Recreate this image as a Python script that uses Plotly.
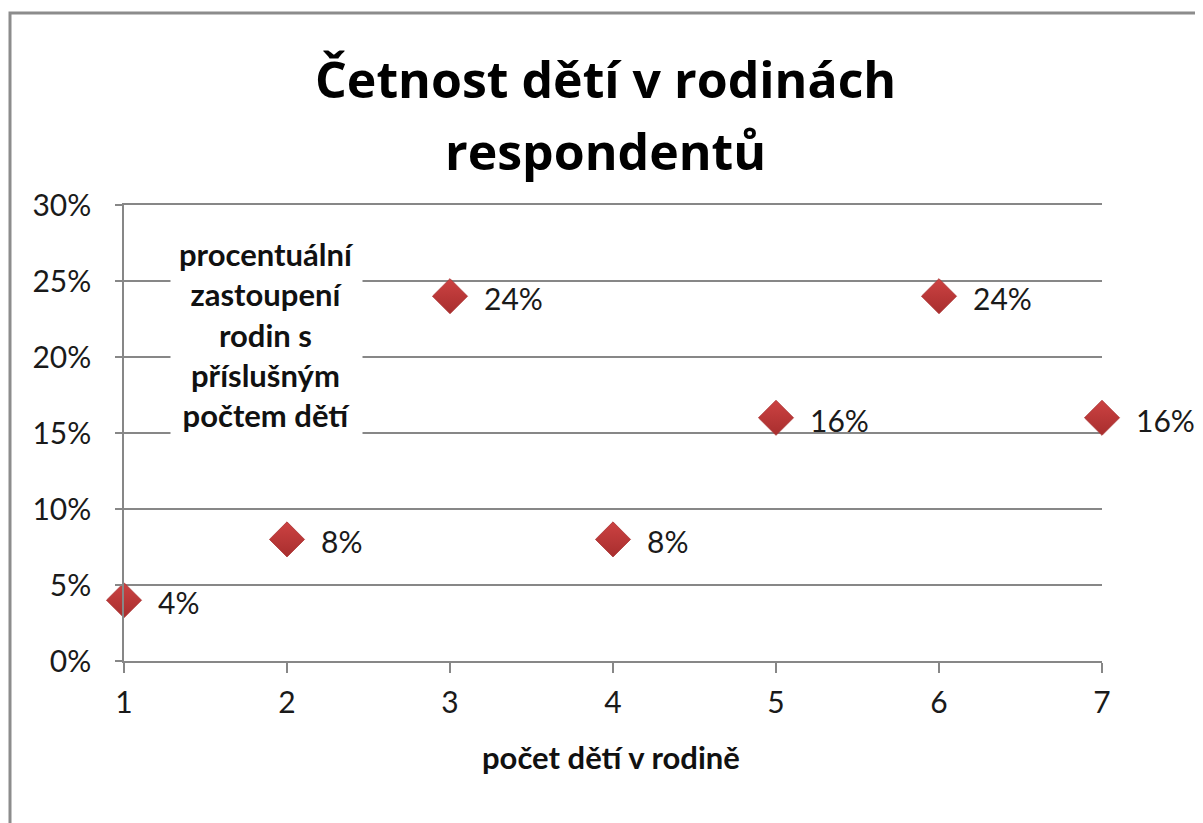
import plotly.graph_objects as go

# data
pocet_deti = [1, 2, 3, 4, 5, 6, 7]
podil = [4, 8, 24, 8, 16, 24, 16]
y_ticks = [0, 5, 10, 15, 20, 25, 30]
y_tick_labels = [f"{v}%" for v in y_ticks]
popis = "procentuální<br>zastoupení<br>rodin s<br>příslušným<br>počtem dětí"
title_lines = ["Četnost dětí v rodinách", "respondentů"]

# the page puts the figure 8px in from the top-left corner
OFF = 8
W, H = 1203 - OFF, 823 - OFF
L, T = 124 - OFF, 205 - OFF
R = W - (1102 - OFF)
B = H - (661 - OFF)
pw, ph = W - L - R, H - T - B


def px_x(px):
    return (px - OFF - L) / pw


def px_y(py):
    return (H - B - (py - OFF)) / ph


font = "Lato, 'Open Sans', sans-serif"
grid_color = "#878787"

fig = go.Figure()

fig.add_trace(go.Scatter(
    x=pocet_deti,
    y=podil,
    mode="markers",
    marker=dict(symbol="diamond", size=27, color="#CC4242",
                gradient=dict(type="vertical", color="#A82E2E"),
                line=dict(color="#A93232", width=0.8)),
    showlegend=False,
    hoverinfo="skip",
    cliponaxis=False,
))

annotations = []
for x, y in zip(pocet_deti, podil):
    annotations.append(dict(
        x=x, y=y, xref="x", yref="y", text=f"{y}%", showarrow=False,
        xanchor="left", xshift=32, yshift=-2,
        font=dict(family=font, size=30, color="#1a1a1a"),
    ))

annotations.append(dict(
    x=1.877, y=21.45, xref="x", yref="y", text=f"<b>{popis}</b>",
    showarrow=False, xanchor="center", yanchor="middle",
    bgcolor="white", borderpad=8,
    font=dict(family=font, size=31, color="#111"),
))

for i, line in enumerate(title_lines):
    annotations.append(dict(
        x=px_x(605), y=px_y(79 + i * 72), xref="paper", yref="paper",
        xanchor="center", yanchor="middle", text=f"<b>{line}</b>",
        showarrow=False,
        font=dict(family="'Open Sans', sans-serif", size=50, color="#000"),
    ))

annotations.append(dict(
    x=px_x(611), y=px_y(757), xref="paper", yref="paper",
    xanchor="center", yanchor="middle", text="<b>počet dětí v rodině</b>",
    showarrow=False, font=dict(family=font, size=31, color="#111"),
))

shapes = [
    dict(type="rect", xref="paper", yref="paper",
         x0=px_x(10), x1=px_x(1200), y0=px_y(13), y1=px_y(840),
         line=dict(color="#8c8c8c", width=3), fillcolor="rgba(0,0,0,0)"),
]

fig.update_layout(
    width=W, height=H,
    margin=dict(l=L, r=R, t=T, b=B),
    paper_bgcolor="white",
    plot_bgcolor="white",
    font=dict(family=font, size=31, color="#1a1a1a"),
    annotations=annotations,
    shapes=shapes,
)

fig.update_xaxes(
    range=[1, 7], tickvals=pocet_deti, ticks="outside", ticklen=10,
    tickcolor=grid_color, tickwidth=1.5, showgrid=False, zeroline=False,
    showline=True, mirror=True, linecolor=grid_color, linewidth=1.5,
    tickfont=dict(family=font, size=30, color="#1a1a1a"),
    ticklabelstandoff=4,
)
fig.update_yaxes(
    range=[0, 30], tickvals=y_ticks, ticktext=y_tick_labels,
    ticks="outside", ticklen=7, tickcolor=grid_color, tickwidth=1.5,
    showgrid=True, gridcolor=grid_color, gridwidth=1.5, zeroline=False,
    showline=True, linecolor=grid_color, linewidth=1.5,
    tickfont=dict(family=font, size=30, color="#1a1a1a"),
    ticklabelstandoff=18,
)

fig.write_html("out.html")
